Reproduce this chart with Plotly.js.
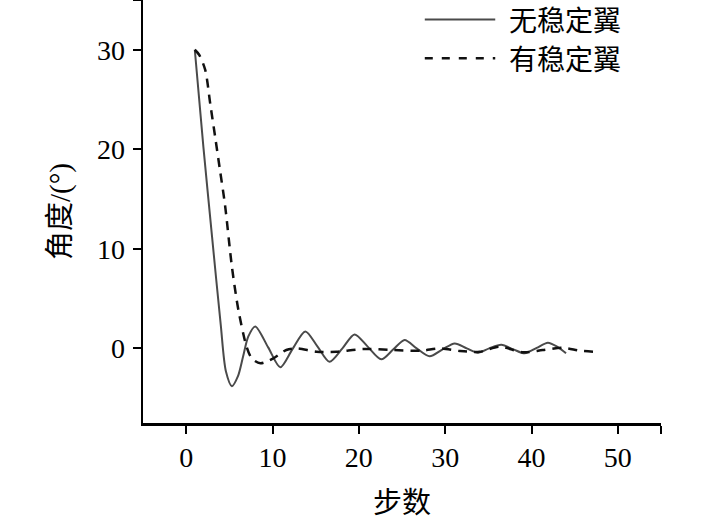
<!DOCTYPE html>
<html>
<head>
<meta charset="utf-8">
<script src="https://cdn.plot.ly/plotly-3.0.1.min.js"></script>
<style>html,body{margin:0;padding:0;background:#fff;}#chart{width:709px;height:519px;}</style>
</head>
<body>
<div id="chart"></div>
<script>
// 无稳定翼 (without stabilizer)
const stepsNo = [1, 2, 3, 4, 4.6, 5.3, 6.0, 6.6, 7.2, 8.0, 9.5, 10.9, 12.3, 13.8, 15.2, 16.6, 18.1, 19.5, 21.0, 22.6, 24.0, 25.3, 26.7, 28.2, 29.7, 31.1, 32.5, 33.8, 35.1, 36.5, 37.9, 39.2, 40.6, 41.9, 43.0, 44.0];
const angleNo = [30, 20.2, 11.2, 2.4, -2.3, -3.8, -2.8, -0.8, 1.2, 2.2, 0.1, -1.9, -0.1, 1.7, 0.2, -1.35, 0.0, 1.4, 0.2, -1.1, -0.1, 0.85, 0.0, -0.8, -0.1, 0.5, 0.0, -0.45, 0.0, 0.35, -0.1, -0.5, 0.05, 0.57, 0.15, -0.5];
// 有稳定翼 (with stabilizer)
const stepsYes = [1, 1.5, 2.2, 2.8, 3.4, 3.9, 4.5, 5.3, 6.05, 7.0, 7.6, 8.6, 10.1, 11.6, 12.8, 15.1, 17.4, 20.5, 24.0, 27.2, 29.4, 31.7, 34.0, 36.3, 39.0, 41.3, 43.6, 45.7, 47.9];
const angleYes = [30, 29.5, 28.0, 24.5, 21.0, 18.0, 14.4, 8.2, 3.85, 0.16, -1.0, -1.5, -1.0, -0.17, 0.0, -0.34, -0.34, -0.07, -0.17, -0.24, 0.0, -0.27, -0.34, 0.17, -0.4, -0.17, 0.06, -0.24, -0.37];
const seriesNames = ['无稳定翼', '有稳定翼'];
const xTickVals = [0, 10, 20, 30, 40, 50, 55];
const xTickText = ['0', '10', '20', '30', '40', '50', ''];
const yTickVals = [0, 10, 20, 30, 35];
const yTickText = ['0', '10', '20', '30', ''];

const serif = "'Liberation Serif', 'Times New Roman', 'Noto Sans CJK SC', serif";

const traces = [
  {x: stepsNo, y: angleNo, name: seriesNames[0], mode: 'lines',
   line: {color: '#4a4a4a', width: 2, shape: 'spline', smoothing: 0.8}},
  {x: stepsYes, y: angleYes, name: seriesNames[1], mode: 'lines',
   line: {color: '#111111', width: 2.5, dash: '9px,7px', shape: 'spline', smoothing: 0.8}}
];

const axisCommon = {
  showline: true, linecolor: '#000', linewidth: 2.5,
  ticks: 'outside', ticklen: 8, tickwidth: 2, tickcolor: '#000',
  showgrid: false, zeroline: false, tickmode: 'array',
  tickfont: {family: serif, size: 28, color: '#000'}
};

const layout = {
  width: 709, height: 519,
  margin: {l: 143, r: 48, t: 0, b: 96},
  paper_bgcolor: '#fff', plot_bgcolor: '#fff',
  showlegend: false,
  xaxis: Object.assign({}, axisCommon, {
    range: [-5, 55], tickvals: xTickVals, ticktext: xTickText,
    ticklabelstandoff: 0,
    title: {text: '步数', font: {family: serif, size: 29, color: '#000'}, standoff: 25}
  }),
  yaxis: Object.assign({}, axisCommon, {
    range: [-7.5, 35], tickvals: yTickVals, ticktext: yTickText,
    ticklabelstandoff: 2,
    title: {text: '角度/(°)', font: {family: serif, size: 29, color: '#000'}, standoff: 18}
  }),
  shapes: [
    {type: 'line', xref: 'paper', yref: 'paper', x0: 0.544, x1: 0.680, y0: 0.954, y1: 0.954,
     line: {color: '#4a4a4a', width: 2}},
    {type: 'line', xref: 'paper', yref: 'paper', x0: 0.544, x1: 0.680, y0: 0.862, y1: 0.862,
     line: {color: '#111111', width: 2.5, dash: '8px,9px'}}
  ],
  annotations: [
    {xref: 'paper', yref: 'paper', x: 0.703, y: 0.950, xanchor: 'left', yanchor: 'middle',
     text: seriesNames[0], showarrow: false, font: {family: serif, size: 28, color: '#000'}},
    {xref: 'paper', yref: 'paper', x: 0.703, y: 0.856, xanchor: 'left', yanchor: 'middle',
     text: seriesNames[1], showarrow: false, font: {family: serif, size: 28, color: '#000'}}
  ]
};

Plotly.newPlot('chart', traces, layout, {displayModeBar: false, staticPlot: true});
</script>
</body>
</html>
